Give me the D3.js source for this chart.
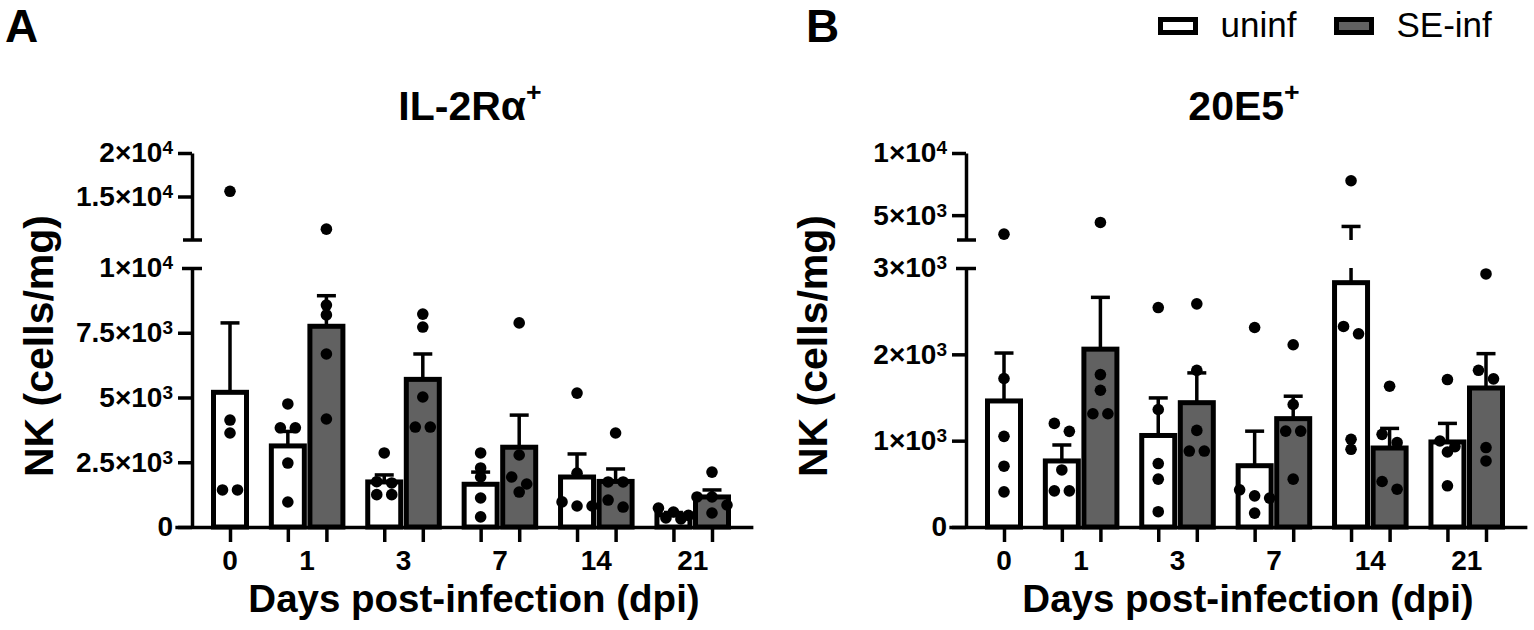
<!DOCTYPE html>
<html>
<head>
<meta charset="utf-8">
<script src="https://cdn.jsdelivr.net/npm/d3@7"></script>
<style>
  body { margin: 0; background: #fff; }
  text { font-family: "Liberation Sans", Arial, sans-serif; }
</style>
</head>
<body>
<svg id="chart" width="1534" height="630"></svg>
<script>
// Days on the x axis and the two groups
const dayLabels = ["0", "1", "3", "7", "14", "21"];
const legendNames = ["uninf", "SE-inf"];

// IL-2Ra+ NK cells (cells/mg): mean, SEM and single mice
const il2UninfMean = [5200, 3130, 1740, 1650, 1930, 470];
const il2UninfSem = [2680, 560, 270, 470, 890, 90];
const il2InfMean = [null, 7750, 5700, 3080, 1760, 1160];
const il2InfSem = [null, 1180, 980, 1240, 480, 270];
const il2UninfPts = [
    [15600, 4130, 3630, 1430, 1430],
    [4750, 3830, 3830, 2470, 965],
    [2860, 1750, 1700, 1250, 1250],
    [2860, 2280, 1930, 1120, 390],
    [5170, 2080, 970, 810, 810],
    [730, 580, 450, 350, 310]
];
const il2InfPts = [
    null,
    [11250, 8570, 8190, 6680, 4170],
    [8220, 7720, 5020, 3860, 3860],
    [7880, 2780, 1930, 1660, 1350],
    [3630, 1740, 1740, 1040, 770],
    [2120, 1160, 1160, 850, 540]
];
const il2LowTicks = [0, 2500, 5000, 7500, 10000];
const il2HighTicks = [15000, 20000];

// 20E5+ NK cells (cells/mg)
const e20UninfMean = [1460, 765, 1060, 710, 2830, 985];
const e20UninfSem = [555, 185, 435, 400, 1260, 215];
const e20InfMean = [null, 2060, 1440, 1255, 915, 1610];
const e20InfSem = [null, 600, 345, 260, 227, 398];
const e20UninfPts = [
    [3470, 1720, 1050, 704, 407],
    [1200, 1108, 661, 419, 419],
    [2542, 1361, 735, 554, 177],
    [2311, 431, 361, 335, 161],
    [7766, 2323, 2238, 1015, 900],
    [1708, 996, 931, 869, 477]
];
const e20InfPts = [
    null,
    [4411, 1765, 1584, 1312, 1312],
    [2585, 1815, 1119, 880, 880],
    [2111, 1419, 1111, 1111, 554],
    [1631, 1073, 977, 527, 438],
    [2931, 1815, 1716, 920, 765]
];
const e20LowTicks = [0, 1000, 2000, 3000];
const e20HighTicks = [5000, 10000];

const svg = d3.select("#chart");
const fillColors = ["#ffffff", "#616161"];

const yBottom = 527, lowTop = 268, highBottom = 240, highTop = 153;
const barW = 33;

// slot layout: day 0 has one bar, others a pair; half a slot between days
let slot = 0;
const slots = dayLabels.map(function(d, i) {
    if (i > 0) slot += 1.5;
    let u = slot;
    let s = null;
    if (i > 0) { slot += 1; s = slot; }
    return {day: d, uninf: u, inf: s};
});

// 2.5x10^3 style labels
function sciLabel(sel) {
    sel.each(function(v) {
        const t = d3.select(this).text(null);
        if (v === 0) { t.append("tspan").text("0"); return; }
        const e = Math.floor(Math.log10(v));
        const m = +(v / Math.pow(10, e)).toFixed(2);
        t.append("tspan").text(m + "\u00d710");
        t.append("tspan").attr("dy", "-0.42em").attr("font-size", "0.68em").text(e);
    });
}

function dodge(values, y) {
    let pts = values.map(function(v) { return {v: v, py: y(v)}; });
    pts.sort(function(a, b) { return a.py - b.py; });
    let rows = [];
    pts.forEach(function(p) {
        let row = rows[rows.length - 1];
        if (row && p.py - row[0].py < 9) row.push(p);
        else rows.push([p]);
    });
    rows.forEach(function(row) {
        row.forEach(function(p, i) { p.dx = (i - (row.length - 1) / 2) * 15; });
    });
    return pts;
}

function drawPanel(cfg) {
    const g = svg.append("g");
    const axisX = cfg.axisX;

    const x = d3.scaleLinear().domain([0, 12.5]).range([axisX + 38, axisX + 520]);
    const yLow = d3.scaleLinear().domain([0, cfg.lowMax]).range([yBottom, lowTop]);
    const yHigh = d3.scaleLinear().domain([cfg.lowMax, cfg.highMax]).range([highBottom, highTop]);
    const y = function(v) { return v <= cfg.lowMax ? yLow(v) : yHigh(v); };

    // bars, error bars, points
    const series = [
        {mean: cfg.uninfMean, sem: cfg.uninfSem, pts: cfg.uninfPts, key: "uninf", fill: fillColors[0]},
        {mean: cfg.infMean, sem: cfg.infSem, pts: cfg.infPts, key: "inf", fill: fillColors[1]}
    ];

    const barG = g.append("g");
    series.forEach(function(s) {
        slots.forEach(function(sl, i) {
            if (s.mean[i] === null) return;
            const cx = x(sl[s.key]);
            barG.append("rect")
                .attr("x", cx - barW / 2)
                .attr("y", yLow(s.mean[i]))
                .attr("width", barW)
                .attr("height", yBottom - yLow(s.mean[i]))
                .attr("fill", s.fill)
                .attr("stroke", "#000")
                .attr("stroke-width", 5);
        });
    });

    const errG = g.append("g").attr("stroke", "#000").attr("stroke-width", 3.5);
    series.forEach(function(s) {
        slots.forEach(function(sl, i) {
            if (s.mean[i] === null) return;
            const cx = x(sl[s.key]);
            const top = s.mean[i] + s.sem[i];
            if (top <= cfg.lowMax) {
                errG.append("line").attr("x1", cx).attr("x2", cx)
                    .attr("y1", yLow(s.mean[i])).attr("y2", yLow(top));
            } else {
                errG.append("line").attr("x1", cx).attr("x2", cx)
                    .attr("y1", yLow(s.mean[i])).attr("y2", lowTop);
                errG.append("line").attr("x1", cx).attr("x2", cx)
                    .attr("y1", highBottom).attr("y2", yHigh(top));
            }
            errG.append("line").attr("x1", cx - 9.5).attr("x2", cx + 9.5)
                .attr("y1", y(top)).attr("y2", y(top));
        });
    });

    const dotG = g.append("g");
    series.forEach(function(s) {
        slots.forEach(function(sl, i) {
            if (!s.pts[i]) return;
            const cx = x(sl[s.key]);
            dotG.selectAll(null)
                .data(dodge(s.pts[i], y))
                .enter()
                .append("circle")
                    .attr("cx", function(d) { return cx + d.dx; })
                    .attr("cy", function(d) { return d.py; })
                    .attr("r", 5.8)
                    .attr("fill", "#000");
        });
    });

    // y axis, two segments
    const lowAxis = g.append("g")
        .attr("transform", `translate(${axisX},0)`)
        .call(d3.axisLeft(yLow).tickValues(cfg.lowTicks).tickSize(14).tickSizeOuter(0).tickPadding(5));
    const highAxis = g.append("g")
        .attr("transform", `translate(${axisX},0)`)
        .call(d3.axisLeft(yHigh).tickValues(cfg.highTicks).tickSize(14).tickSizeOuter(0).tickPadding(5));

    [lowAxis, highAxis].forEach(function(ax) {
        ax.select(".domain").attr("stroke-width", 3.5);
        ax.selectAll(".tick line").attr("stroke-width", 3.5);
        ax.selectAll(".tick text")
            .attr("font-size", 28)
            .attr("font-weight", "bold")
            .attr("fill", "#000")
            .call(sciLabel);
    });
    // break marks
    lowAxis.selectAll(".tick line")
        .filter(function(d) { return d === cfg.lowMax; })
        .attr("x1", 10).attr("x2", -10);
    g.append("line")
        .attr("x1", axisX - 9).attr("x2", axisX + 10)
        .attr("y1", highBottom).attr("y2", highBottom)
        .attr("stroke", "#000").attr("stroke-width", 3.5);

    // x axis
    const barPos = [];
    slots.forEach(function(sl) {
        barPos.push(sl.uninf);
        if (sl.inf !== null) barPos.push(sl.inf);
    });
    const xAxisScale = x.copy().domain([-1.43, 13.56]).range([x(-1.43), x(13.56)]);
    const xAxis = g.append("g")
        .attr("transform", `translate(0,${yBottom})`)
        .call(d3.axisBottom(xAxisScale).tickValues(barPos).tickSize(15).tickSizeOuter(0).tickFormat(""));
    xAxis.select(".domain").attr("stroke-width", 3.5);
    xAxis.selectAll(".tick line").attr("stroke-width", 3.5);

    g.append("g").selectAll("text")
        .data(slots)
        .enter()
        .append("text")
            .attr("x", function(d) { return d.inf === null ? x(d.uninf) : x((d.uninf + d.inf) / 2); })
            .attr("y", 570)
            .attr("text-anchor", "middle")
            .attr("font-size", 28)
            .attr("font-weight", "bold")
            .text(function(d) { return d.day; });

    g.append("text")
        .attr("x", axisX + 282)
        .attr("y", 612)
        .attr("text-anchor", "middle")
        .attr("font-size", 38.5)
        .attr("font-weight", "bold")
        .text("Days post-infection (dpi)");

    g.append("text")
        .attr("transform", `translate(${axisX - 139},346) rotate(-90)`)
        .attr("text-anchor", "middle")
        .attr("font-size", 41)
        .attr("font-weight", "bold")
        .text("NK (cells/mg)");

    const title = g.append("text")
        .attr("x", axisX + 278)
        .attr("y", 120)
        .attr("text-anchor", "middle")
        .attr("font-size", 41)
        .attr("font-weight", "bold");
    title.append("tspan").text(cfg.title);
    title.append("tspan").attr("dy", "-0.7em").attr("font-size", "0.65em").text("+");

    g.append("text")
        .attr("x", cfg.letterX)
        .attr("y", 42)
        .attr("font-size", 46)
        .attr("font-weight", "bold")
        .text(cfg.letter);
}

drawPanel({
    letter: "A", letterX: 5, axisX: 192, title: "IL-2R\u03b1",
    lowMax: 10000, highMax: 20000, lowTicks: il2LowTicks, highTicks: il2HighTicks,
    uninfMean: il2UninfMean, uninfSem: il2UninfSem, uninfPts: il2UninfPts,
    infMean: il2InfMean, infSem: il2InfSem, infPts: il2InfPts
});

drawPanel({
    letter: "B", letterX: 806, axisX: 966, title: "20E5",
    lowMax: 3000, highMax: 10000, lowTicks: e20LowTicks, highTicks: e20HighTicks,
    uninfMean: e20UninfMean, uninfSem: e20UninfSem, uninfPts: e20UninfPts,
    infMean: e20InfMean, infSem: e20InfSem, infPts: e20InfPts
});

// legend
const legend = svg.append("g");
const legendX = [1160.5, 1336.5];
legendNames.forEach(function(name, i) {
    legend.append("rect")
        .attr("x", legendX[i]).attr("y", 19.5)
        .attr("width", 35).attr("height", 13)
        .attr("fill", fillColors[i])
        .attr("stroke", "#000")
        .attr("stroke-width", 5);
    legend.append("text")
        .attr("x", legendX[i] + 60)
        .attr("y", 37)
        .attr("font-size", 35)
        .text(name);
});
</script>
</body>
</html>
